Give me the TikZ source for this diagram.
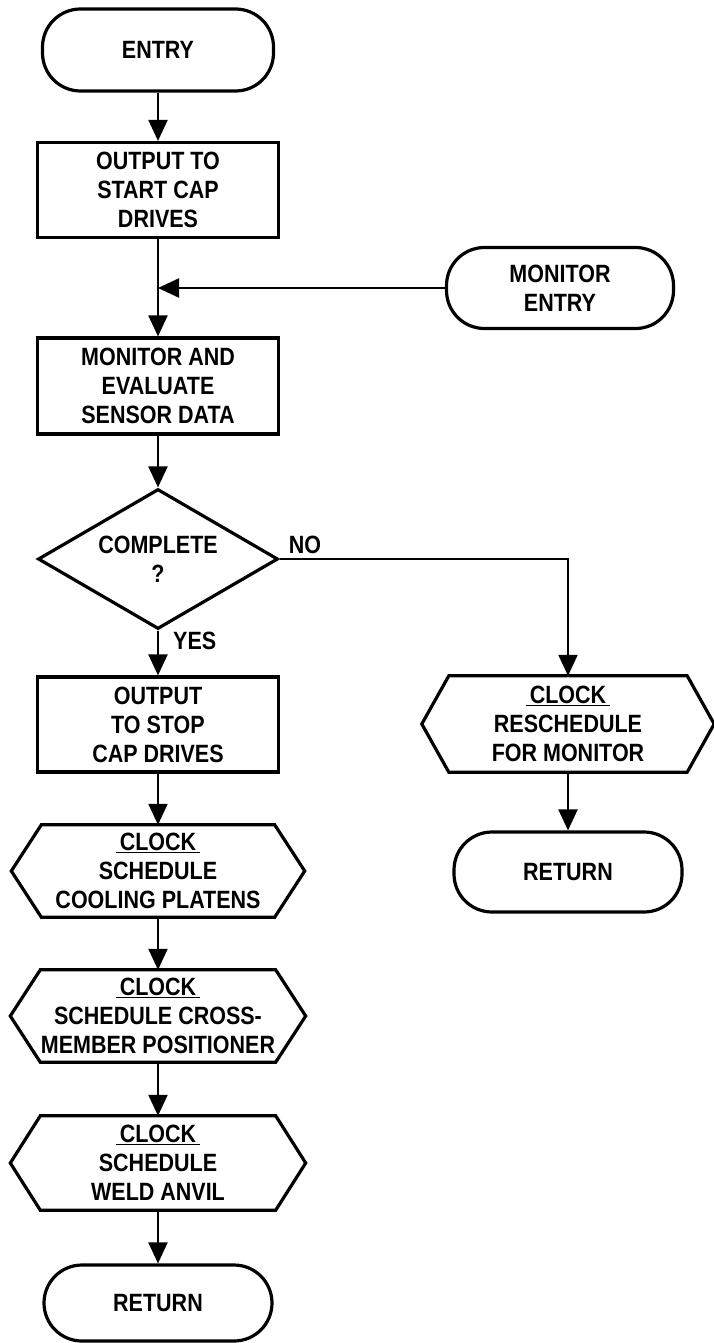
\documentclass[tikz,border=0pt]{standalone}
\usepackage{fontspec}
\newfontfamily\chartfont{Liberation Sans}[FakeStretch=0.86]
\usetikzlibrary{arrows.meta,shapes.geometric}

% outline of a hexagonal "clock" box drawn round a core rectangle node
\newcommand\hexoutline[2]{%
  \draw[boxline] (#1.north west) -- (#1.north east) -- ([xshift=#2]#1.east)
    -- (#1.south east) -- (#1.south west) -- ([xshift=-#2]#1.west) -- cycle;}
\newcommand\clk{\underline{\,CLOCK\,}}

\tikzset{
  every node/.style={font=\chartfont\bfseries\fontsize{25}{29}\selectfont,
                     align=center, inner sep=0pt},
  boxline/.style={line width=3.2pt, line join=miter},
  procbox/.style={draw, boxline, minimum width=241pt, minimum height=95pt},
  termbox/.style={draw, boxline, rounded corners=38pt},
  hexcore/.style={minimum height=94pt},
  decision/.style={draw, boxline, diamond, aspect=1.714,
                   minimum width=240pt, minimum height=140pt},
  flow/.style={line width=2.2pt},
  arr/.style={flow, -{Triangle[length=21pt,width=19pt]}},
}

\begin{document}
\begin{tikzpicture}[x=1pt, y=-1pt]
  \useasboundingbox (0,0) rectangle (714,1343);

  % main column
  \node[termbox, minimum width=231pt, minimum height=82pt] (entry) at (158,50) {ENTRY};
  \node[procbox] (start) at (158,190) {OUTPUT TO\\START CAP\\DRIVES};
  \node[procbox, minimum height=96pt] (eval) at (158,386) {MONITOR AND\\EVALUATE\\SENSOR DATA};
  \node[decision] (cmp) at (158,559) {COMPLETE\\?};
  \node[procbox] (stop) at (158,724.5) {OUTPUT\\TO STOP\\CAP DRIVES};
  \node[hexcore, minimum width=233pt, minimum height=92pt] (cool) at (158,871)
       {\clk\\SCHEDULE\\COOLING PLATENS};
  \node[hexcore, minimum width=235pt, minimum height=92pt] (cross) at (158,1016)
       {\clk\\SCHEDULE CROSS-\\MEMBER POSITIONER};
  \node[hexcore, minimum width=235pt] (weld) at (158,1163)
       {\clk\\SCHEDULE\\WELD ANVIL};
  \node[termbox, minimum width=228pt, minimum height=76pt] (ret) at (158,1303) {RETURN};

  \hexoutline{cool}{30pt}
  \hexoutline{cross}{30pt}
  \hexoutline{weld}{30pt}

  % right column
  \node[termbox, minimum width=227pt, minimum height=81pt] (mentry) at (560,288) {MONITOR\\ENTRY};
  \node[hexcore, minimum width=238pt, minimum height=96pt] (resched) at (568,724)
       {\clk\\RESCHEDULE\\FOR MONITOR};
  \hexoutline{resched}{27pt}
  \node[termbox, minimum width=228pt, minimum height=80pt] (rret) at (568,872) {RETURN};

  % branch labels
  \node[anchor=base west] (nolabel) at ([xshift=9pt,yshift=6pt]cmp.east) {NO};
  \node[anchor=base west] (yeslabel) at ([xshift=15pt,yshift=-19pt]cmp.south) {YES};

  % connectors
  \draw[arr] (entry.south) -- (start.north);
  \draw[arr] (start.south) -- (eval.north);
  \draw[arr] (mentry.west) -- (mentry.west -| start.south);
  \draw[arr] (eval.south) -- (cmp.north);
  \draw[arr] (cmp.south) -- (stop.north);
  \draw[arr] (cmp.east) -| (resched.north);
  \draw[arr] (stop.south) -- (cool.north);
  \draw[arr] (cool.south) -- (cross.north);
  \draw[arr] (cross.south) -- (weld.north);
  \draw[arr] (weld.south) -- (ret.north);
  \draw[arr] (resched.south) -- (rret.north);
\end{tikzpicture}
\end{document}
